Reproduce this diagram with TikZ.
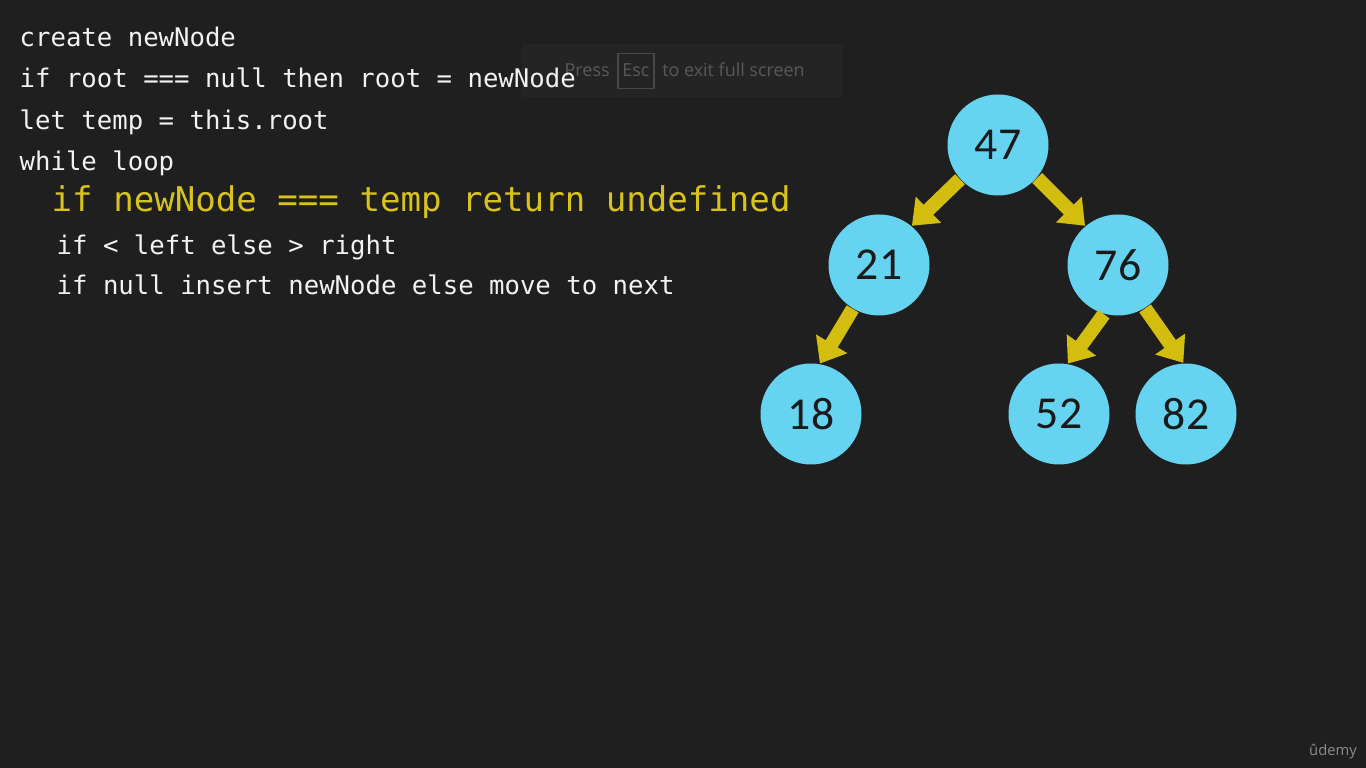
\documentclass[tikz,border=0pt]{standalone}
\usepackage{fontspec}
\setmainfont{Carlito}
\setmonofont{DejaVu Sans Mono}
\newfontfamily\overlayfont{Open Sans}
\usetikzlibrary{positioning, arrows.meta}
\definecolor{bg_grey}{HTML}{1F1F1F}
\definecolor{overlay_grey}{HTML}{242424}
\definecolor{overlay_text_grey}{HTML}{595959}
\definecolor{overlay_line_grey}{HTML}{484848}
\definecolor{code_white}{HTML}{F2F2F2}
\definecolor{code_yellow}{HTML}{D8C31C}
\definecolor{arrow_yellow}{HTML}{D3BE0F}
\definecolor{node_blue}{HTML}{66D3F0}
\definecolor{node_text}{HTML}{1A1A1A}
\tikzset{
    code_text/.style={anchor=base west, inner sep=0pt, text=code_white, font=\ttfamily\fontsize{7.3pt}{8pt}\selectfont},
    code_highlight/.style={anchor=base west, inner sep=0pt, text=code_yellow, font=\ttfamily\fontsize{9.7pt}{11pt}\selectfont},
    tree_node/.style={circle, fill=node_blue, minimum size=10.1mm, inner sep=0pt, text=node_text, font=\fontsize{13pt}{15pt}\selectfont},
    arrow/.style={draw=arrow_yellow, line width=1.4mm, -{Triangle[width=3.5mm, length=2.3mm]}},
    overlay_text/.style={inner sep=0pt, anchor=base west, text=overlay_text_grey, font=\overlayfont\fontsize{5.1pt}{6pt}\selectfont},
}

\begin{document}
\begin{tikzpicture}[x=0.1mm, y=-0.1mm]
            % background
            \fill [bg_grey] (0,0) rectangle (1366,768);
            \useasboundingbox (0,0) rectangle (1366,768);

            %%%%%%%%%%%
            % OVERLAY %
            %%%%%%%%%%%
            \fill [overlay_grey] (522,44) rectangle (843,97);
            \node (overlay_press) [overlay_text] at (564,77) {Press};
            \node (overlay_esc) [overlay_text, draw=overlay_line_grey, line width=0.12mm,
                    inner xsep=0.45mm, inner ysep=1.1mm, right = 0.7mm of overlay_press.base east, anchor=base west] {Esc};
            \node (overlay_exit) [overlay_text, right = 0.7mm of overlay_esc.base east, anchor=base west]
                    {to exit full screen};

            %%%%%%%%%%%%%
            % CODE TEXT %
            %%%%%%%%%%%%%
            \node (line_create) [code_text] at (19,47) {create newNode};
            \node (line_root) [code_text] at (19,88) {if root === null then root = newNode};
            \node (line_temp) [code_text] at (19,130) {let temp = this.root};
            \node (line_while) [code_text] at (19,171) {while loop};
            \node (line_equal) [code_highlight] at (51,212) {if newNode === temp return undefined};
            \node (line_compare) [code_text] at (56,255) {if < left else > right};
            \node (line_insert) [code_text] at (56,295) {if null insert newNode else move to next};

            %%%%%%%%
            % TREE %
            %%%%%%%%
            \node (node_47) [tree_node] at (998,145) {47};
            \node (node_21) [tree_node] at (879,265) {21};
            \node (node_76) [tree_node] at (1118,265) {76};
            \node (node_18) [tree_node] at (811,414) {18};
            \node (node_52) [tree_node] at (1059,414) {52};
            \node (node_82) [tree_node] at (1186,414) {82};

            \draw [arrow] (node_47.222) -- (node_21.50);
            \draw [arrow] (node_47.320) -- (node_76.130);
            \draw [arrow] (node_21.239) -- (node_18.80);
            \draw [arrow] (node_76.254) -- (node_52.80);
            \draw [arrow] (node_76.302) -- (node_82.93);

            % logo
            \node (logo_udemy) [inner sep=0pt, anchor=base, text=black!45!white,
                    font=\overlayfont\fontsize{4.2pt}{5pt}\selectfont] at (1333,756) {ûdemy};
      \end{tikzpicture}
\end{document}
